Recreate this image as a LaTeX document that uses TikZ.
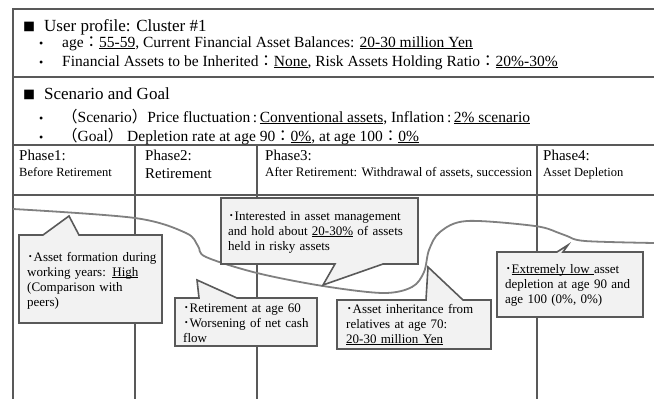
\documentclass[tikz,border=0pt]{standalone}
\usepackage{fontspec}
\setmainfont{Liberation Serif}
\newfontfamily\cjk{Noto Sans CJK JP}
\usetikzlibrary{positioning}
\definecolor{gridgray}{HTML}{595959}
\definecolor{boxgray}{HTML}{F2F2F2}
\definecolor{wavegray}{HTML}{808080}
\newcommand{\fw}[1]{{\cjk #1}}
\newcommand{\ul}[1]{\underline{\smash{#1}}}

\begin{document}
\begin{tikzpicture}[
  x=1pt, y=-1pt,
  rule/.style={draw=gridgray, line width=1.4pt},
  callbox/.style={draw=gridgray, fill=boxgray, line width=1.6pt},
  wave/.style={draw=wavegray, line width=1.8pt},
  headtext/.style={anchor=base west, inner sep=0pt, font=\fontsize{17}{20}\selectfont},
  itemtext/.style={anchor=base west, inner sep=0pt, font=\fontsize{15.5}{18}\selectfont},
  marktext/.style={anchor=base west, inner sep=0pt},
  phasetitle/.style={anchor=base west, inner sep=0pt, font=\fontsize{15}{18}\selectfont},
  phasesub/.style={anchor=base west, inner sep=0pt, font=\fontsize{12.5}{15}\selectfont},
  notetext/.style={anchor=base west, inner sep=0pt, align=left, text width=#1,
    font=\fontsize{13}{15}\selectfont}
]
  \useasboundingbox (0,0) rectangle (654,399);

  % frame
  \draw[rule] (654,9) -- (13,9) -- (13,399);
  \draw[rule] (13,77) -- (654,77);
  \draw[rule] (13,145) -- (654,145);
  \draw[rule] (13,195) -- (654,195);
  \draw[rule] (135,145) -- (135,399);
  \draw[rule] (257,145) -- (257,399);
  \draw[rule] (537,145) -- (537,399);

  % user profile and scenario
  \node[marktext, font=\fontsize{12}{14}\selectfont] (sq1) at (23,31) {\fw{■}};
  \node[headtext] (prof) at (44,31) {User profile: Cluster \#1};
  \node[marktext, font=\fontsize{12}{14}\selectfont] (dot1) at (39,47) {•};
  \node[itemtext] (prof1) at (62,47)
    {age\fw{：}\ul{55-59}, Current Financial Asset Balances: \ul{20-30 million Yen}};
  \node[marktext, font=\fontsize{12}{14}\selectfont] (dot2) at (39,66) {•};
  \node[itemtext] (prof2) at (62,66)
    {Financial Assets to be Inherited\fw{：}\ul{None}, Risk Assets Holding Ratio\fw{：}\ul{20\%-30\%}};
  \node[marktext, font=\fontsize{12}{14}\selectfont] (sq2) at (23,99) {\fw{■}};
  \node[headtext] (scen) at (44,99) {Scenario and Goal};
  \node[marktext, font=\fontsize{12}{14}\selectfont] (dot3) at (39,122) {•};
  \node[itemtext] (scen1) at (62,122)
    {\fw{（}Scenario\fw{）}Price fluctuation\,:\,\ul{Conventional assets}, Inflation\,:\,\ul{2\% scenario}};
  \node[marktext, font=\fontsize{12}{14}\selectfont] (dot4) at (39,141) {•};
  \node[itemtext] (scen2) at (62,141)
    {\fw{（}Goal\fw{）} Depletion rate at age 90\fw{：}\ul{0\%}, at age 100\fw{：}\ul{0\%}};

  % phases
  \node[phasetitle] (ph1) at (19,160) {Phase1:};
  \node[phasesub] (ph1sub) at (19,176) {Before Retirement};
  \node[phasetitle] (ph2) at (145,160) {Phase2:};
  \node[phasetitle] (ph2sub) at (145,178) {Retirement};
  \node[phasetitle] (ph3) at (265,160) {Phase3:};
  \node[phasesub, font=\fontsize{13}{15}\selectfont] (ph3sub) at (265,176)
    {After Retirement: Withdrawal of assets, succession};
  \node[phasetitle] (ph4) at (543,160) {Phase4:};
  \node[phasesub] (ph4sub) at (543,176) {Asset Depletion};

  % asset curve
  \draw[wave] plot[smooth, tension=0.55] coordinates {(13,209) (135,218) (186,233)
    (198,246) (206,257) (257,273) (323,286) (383,293) (412,287) (424,272) (429,250)
    (440,232) (467,221) (535,226) (559,233) (567,236) (585,241) (654,243)};

  % callouts
  \draw[callbox] (19,235) -- (43,235) -- (69,216) -- (79,235) -- (162,235)
    -- (162,323) -- (19,323) -- cycle;
  \node[notetext=140pt] (form) at (27,261)
    {\fw{･}Asset formation during\\working years: \ul{High}\\(Comparison with\\peers)};

  \draw[callbox] (175,298) -- (199,298) -- (197,280) -- (237,298) -- (317,298)
    -- (317,346) -- (175,346) -- cycle;
  \node[notetext=140pt] (retire) at (183,312)
    {\fw{･}Retirement at age 60\\\fw{･}Worsening of net cash\\flow};

  \draw[callbox] (221,198) -- (418,198) -- (418,264) -- (383,264) -- (323,285)
    -- (335,264) -- (221,264) -- cycle;
  \node[notetext=190pt] (manage) at (228,220)
    {\fw{･}Interested in asset management\\and hold about \ul{20-30\%} of assets\\held in risky assets};

  \draw[callbox] (337,300) -- (426,300) -- (428,267) -- (463,300) -- (491,300)
    -- (491,349) -- (337,349) -- cycle;
  \node[notetext=145pt] (inherit) at (346,313)
    {\fw{･}Asset inheritance from\\relatives at age 70:\\\ul{20-30 million Yen}};

  \draw[callbox] (497,252) -- (557,252) -- (568,245) -- (563,252) -- (643,252)
    -- (643,317) -- (497,317) -- cycle;
  \node[notetext=140pt] (deplete) at (505,273)
    {\fw{･}\ul{Extremely low }asset\\depletion at age 90 and\\age 100 (0\%, 0\%)};
\end{tikzpicture}
\end{document}
